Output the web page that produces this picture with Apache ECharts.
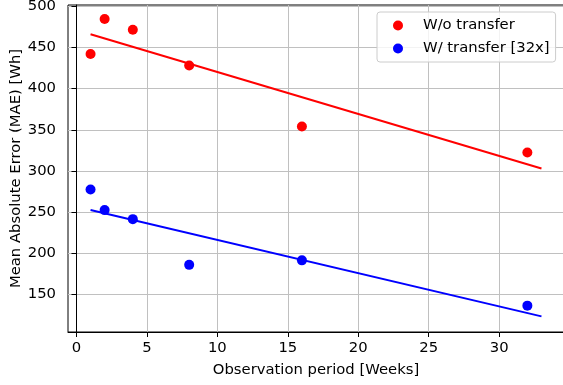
<!DOCTYPE html>
<html>
<head>
<meta charset="utf-8">
<script src="https://cdn.jsdelivr.net/npm/echarts@6/dist/echarts.min.js"></script>
<style>
  html, body { margin: 0; padding: 0; background: #fff; }
  #chart { width: 563px; height: 385px; }
</style>
</head>
<body>
<div id="chart"></div>
<script>
  // observation periods (weeks)
  const weeks = [1, 2, 4, 8, 16, 32]
  const maeNoTransfer = [442, 484.5, 471.5, 428, 354, 322.5]
  const maeTransfer = [277.5, 252.5, 241.5, 186, 191.5, 136.5]

  // fitted trend lines (end points)
  const fitWeeks = [1, 33]
  const fitNoTransfer = [466, 303]
  const fitTransfer = [252.5, 123.5]

  const xTicks = [0, 5, 10, 15, 20, 25, 30]
  const yTicks = [150, 200, 250, 300, 350, 400, 450, 500]

  const pairs = (xs, ys) => xs.map((x, i) => [x, ys[i]])

  const font = 'DejaVu Sans'
  const fs = 14.8
  const chart = echarts.init(document.getElementById('chart'))

  let option = {
    animation: false,
    textStyle: { fontFamily: font },
    grid: {
      left: 68,
      top: 5,
      right: -1,
      bottom: 53,
      containLabel: false,
      outerBoundsMode: 'none',
      show: true,
      borderColor: '#000',
      borderWidth: 1,
      backgroundColor: 'transparent'
    },
    // y axis title, drawn as rotated text (axis name gets pinned to the edge)
    graphic: [{
      type: 'text',
      x: 16,
      y: 168.5,
      rotation: Math.PI / 2,
      style: {
        text: 'Mean Absolute Error (MAE) [Wh]',
        fontFamily: font,
        fontSize: fs,
        fill: '#000',
        align: 'center',
        verticalAlign: 'middle'
      }
    }],
    legend: {
      data: ['W/o transfer', 'W/ transfer [32x]'],
      orient: 'vertical',
      left: 377,
      top: 12,
      icon: 'circle',
      itemWidth: 40,
      itemHeight: 10,
      itemGap: 8,
      padding: [6, 6, 6, 16],
      borderColor: '#cccccc',
      borderWidth: 1,
      borderRadius: 3,
      backgroundColor: 'rgba(255,255,255,0.8)',
      textStyle: { fontFamily: font, fontSize: fs, color: '#000', lineHeight: 15 }
    },
    xAxis: {
      type: 'value',
      min: -0.6,
      max: 34.6,
      name: 'Observation period [Weeks]',
      nameLocation: 'middle',
      nameGap: 31,
      nameTextStyle: { fontFamily: font, fontSize: fs, color: '#000' },
      axisLine: { show: true, lineStyle: { color: '#000', width: 1 } },
      axisTick: { show: true, length: 5, customValues: xTicks, lineStyle: { color: '#000' } },
      axisLabel: { customValues: xTicks, margin: 9, fontFamily: font, fontSize: fs, color: '#000' },
      splitLine: { show: true, lineStyle: { color: '#c0c0c0', width: 1 } }
    },
    yAxis: {
      type: 'value',
      min: 104.5,
      max: 501.5,
      axisLine: { show: true, lineStyle: { color: '#000', width: 1 } },
      axisTick: { show: true, length: 5, customValues: yTicks, lineStyle: { color: '#000' } },
      axisLabel: { customValues: yTicks, margin: 12, fontFamily: font, fontSize: fs, color: '#000' },
      splitLine: { show: true, lineStyle: { color: '#c0c0c0', width: 1 } }
    },
    series: [
      {
        name: 'W/o transfer',
        type: 'scatter',
        symbolSize: 10,
        itemStyle: { color: '#ff0000', opacity: 1 },
        data: pairs(weeks, maeNoTransfer)
      },
      {
        name: 'W/ transfer [32x]',
        type: 'scatter',
        symbolSize: 10,
        itemStyle: { color: '#0000ff', opacity: 1 },
        data: pairs(weeks, maeTransfer)
      },
      {
        name: 'fit1',
        type: 'line',
        showSymbol: false,
        lineStyle: { color: '#ff0000', width: 2 },
        data: pairs(fitWeeks, fitNoTransfer)
      },
      {
        name: 'fit2',
        type: 'line',
        showSymbol: false,
        lineStyle: { color: '#0000ff', width: 2 },
        data: pairs(fitWeeks, fitTransfer)
      }
    ]
  }
  chart.setOption(option)
</script>
</body>
</html>
